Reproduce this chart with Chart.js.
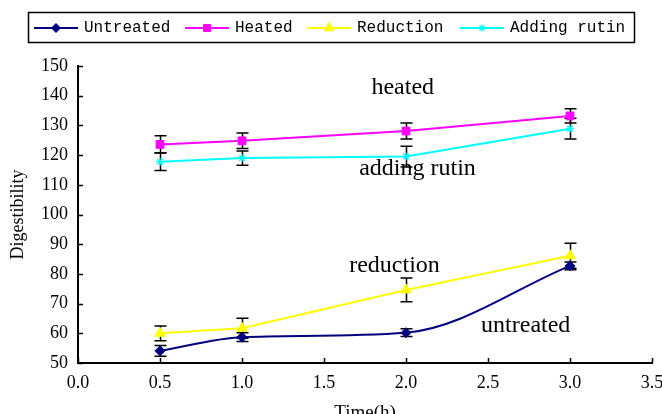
<!DOCTYPE html>
<html>
<head>
<meta charset="utf-8">
<script src="https://cdn.jsdelivr.net/npm/chart.js@4/dist/chart.umd.min.js"></script>
<style>
    html, body { margin: 0; padding: 0; background: #fff; }
    #wrap { width: 662px; height: 414px; position: relative; }
</style>
</head>
<body>
<div id="wrap"><canvas id="myChart" width="662" height="414"></canvas></div>
<script>
// Data
const times = [0.5, 1.0, 2.0, 3.0];
const untreated = [54.1, 58.7, 60.2, 82.7];
const untreatedErr = [1.8, 1.5, 1.3, 1.3];
const heated = [123.6, 124.8, 128.1, 133.2];
const heatedErr = [2.9, 2.6, 2.7, 2.4];
const reduction = [60.0, 61.7, 74.6, 86.1];
const reductionErr = [2.5, 3.4, 4.0, 4.2];
const rutin = [117.8, 119.0, 119.5, 128.9];
const rutinErr = [3.0, 2.4, 3.5, 3.5];

const seriesNames = ['Untreated', 'Heated', 'Reduction', 'Adding rutin'];
const xTicks = [0.0, 0.5, 1.0, 1.5, 2.0, 2.5, 3.0, 3.5];
const yTicks = [50, 60, 70, 80, 90, 100, 110, 120, 130, 140, 150];

// in-plot labels, [text, x, y] in data units
const notes = [
    ['heated', 1.98, 140.7],
    ['adding rutin', 2.07, 113.4],
    ['reduction', 1.93, 80.7],
    ['untreated', 2.73, 60.4]
];

const serif = '"Liberation Serif", "Times New Roman", serif';
const mono = '"Liberation Mono", "Courier New", monospace';

const toPoints = (ys) => times.map((t, i) => ({ x: t, y: ys[i] }));

const makeSet = (label, ys, errs, color, style, radius, extra) => Object.assign({
    label: label,
    data: toPoints(ys),
    errors: errs,
    borderColor: color,
    backgroundColor: color,
    borderWidth: 2,
    pointStyle: style,
    pointRadius: radius,
    pointBorderWidth: 1,
    tension: 0
}, extra || {});

const datasets = [
    makeSet(seriesNames[0], untreated, untreatedErr, '#000080', 'rectRot', 5, { tension: 0.4, cubicInterpolationMode: 'monotone' }),
    makeSet(seriesNames[1], heated, heatedErr, '#ff00ff', 'rect', 5.5),
    makeSet(seriesNames[2], reduction, reductionErr, '#ffff00', 'triangle', 6),
    makeSet(seriesNames[3], rutin, rutinErr, '#00ffff', 'star', 4, { pointBorderWidth: 1.2 })
];

// error bars, inward ticks, titles, notes and the boxed legend
const extrasPlugin = {
    id: 'extras',
    beforeDatasetsDraw(chart) {
        const ctx = chart.ctx;
        const xs = chart.scales.x;
        const ys = chart.scales.y;
        ctx.save();
        ctx.strokeStyle = '#000';
        ctx.lineWidth = 1.5;
        chart.data.datasets.forEach(ds => {
            ds.data.forEach((p, i) => {
                const px = Math.round(xs.getPixelForValue(p.x)) + 0.5;
                const top = ys.getPixelForValue(p.y + ds.errors[i]);
                const bot = ys.getPixelForValue(p.y - ds.errors[i]);
                ctx.beginPath();
                ctx.moveTo(px, top);
                ctx.lineTo(px, bot);
                ctx.moveTo(px - 6, top);
                ctx.lineTo(px + 6, top);
                ctx.moveTo(px - 6, bot);
                ctx.lineTo(px + 6, bot);
                ctx.stroke();
            });
        });
        ctx.restore();
    },
    afterDraw(chart) {
        const ctx = chart.ctx;
        const xs = chart.scales.x;
        const ys = chart.scales.y;
        const area = chart.chartArea;
        ctx.save();

        // inward tick marks
        ctx.strokeStyle = '#000';
        ctx.lineWidth = 1.5;
        ctx.beginPath();
        xTicks.forEach(v => {
            const px = Math.round(xs.getPixelForValue(v)) + 0.5;
            ctx.moveTo(px, area.bottom);
            ctx.lineTo(px, area.bottom - 5);
        });
        yTicks.forEach(v => {
            const py = Math.round(ys.getPixelForValue(v)) + 0.5;
            ctx.moveTo(area.left, py);
            ctx.lineTo(area.left + 5, py);
        });
        ctx.stroke();

        // axis titles
        ctx.fillStyle = '#000';
        ctx.font = '19px ' + serif;
        ctx.textAlign = 'center';
        ctx.textBaseline = 'alphabetic';
        ctx.fillText('Time(h)', (area.left + area.right) / 2, 418);
        ctx.save();
        ctx.translate(23, (area.top + area.bottom) / 2);
        ctx.rotate(-Math.PI / 2);
        ctx.font = '18px ' + serif;
        ctx.fillText('Digestibility', 0, 0);
        ctx.restore();

        // notes inside the plot
        ctx.font = '24px ' + serif;
        notes.forEach(n => {
            ctx.fillText(n[0], xs.getPixelForValue(n[1]), ys.getPixelForValue(n[2]));
        });

        // legend with a frame
        const boxL = 28, boxT = 12, boxR = 634, boxB = 42;
        ctx.fillStyle = '#fff';
        ctx.fillRect(boxL, boxT, boxR - boxL, boxB - boxT);
        ctx.strokeStyle = '#000';
        ctx.lineWidth = 1.5;
        ctx.strokeRect(boxL + 0.5, boxT + 0.5, boxR - boxL, boxB - boxT);
        const itemX = [34, 185, 307, 460];
        const cy = (boxT + boxB) / 2 + 1;
        ctx.font = '16px ' + mono;
        ctx.textAlign = 'left';
        ctx.textBaseline = 'middle';
        chart.data.datasets.forEach((ds, i) => {
            const x0 = itemX[i];
            ctx.strokeStyle = ds.borderColor;
            ctx.lineWidth = 2;
            ctx.beginPath();
            ctx.moveTo(x0, cy);
            ctx.lineTo(x0 + 44, cy);
            ctx.stroke();
            ctx.fillStyle = ds.borderColor;
            ctx.strokeStyle = ds.borderColor;
            ctx.lineWidth = ds.pointBorderWidth;
            Chart.helpers.drawPoint(ctx, {
                pointStyle: ds.pointStyle,
                radius: ds.pointRadius - 0.5,
                borderWidth: ds.pointBorderWidth,
                rotation: 0
            }, x0 + 22, cy);
            ctx.fillStyle = '#000';
            ctx.fillText(ds.label, x0 + 50, cy);
        });
        ctx.restore();
    }
};

new Chart('myChart', {
    type: 'line',
    data: { datasets: datasets },
    options: {
        responsive: false,
        animation: false,
        layout: { padding: { top: 66, right: 10, bottom: 0, left: 0 } },
        plugins: {
            legend: { display: false },
            tooltip: { enabled: false }
        },
        scales: {
            x: {
                type: 'linear',
                min: 0,
                max: 3.5,
                afterFit: (scale) => {
                    scale.height = 51;
                    scale.paddingLeft = 0;
                    scale.paddingRight = 0;
                },
                afterBuildTicks: (scale) => { scale.ticks = xTicks.map(v => ({ value: v })); },
                grid: { drawOnChartArea: false, drawTicks: false },
                border: { display: true, color: '#000', width: 2 },
                ticks: {
                    padding: 9,
                    color: '#000',
                    font: { family: serif, size: 18 },
                    maxRotation: 0,
                    callback: (v) => Number(v).toFixed(1)
                }
            },
            y: {
                min: 50,
                max: 150,
                afterFit: (scale) => {
                    scale.width = 78;
                    scale.paddingTop = 0;
                    scale.paddingBottom = 0;
                },
                afterBuildTicks: (scale) => { scale.ticks = yTicks.map(v => ({ value: v })); },
                grid: { drawOnChartArea: false, drawTicks: false },
                border: { display: true, color: '#000', width: 2 },
                ticks: {
                    padding: 10,
                    color: '#000',
                    font: { family: serif, size: 18 }
                }
            }
        }
    },
    plugins: [extrasPlugin]
});
</script>
</body>
</html>
